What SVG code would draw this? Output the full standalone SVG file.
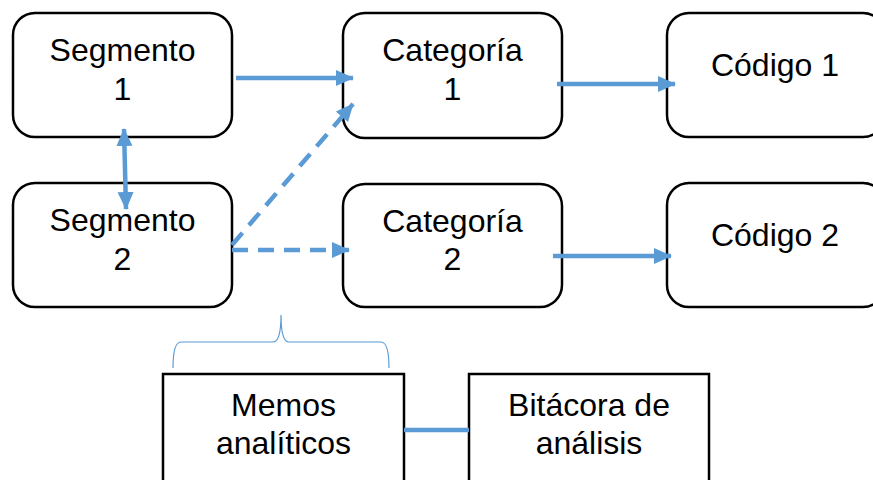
<svg xmlns="http://www.w3.org/2000/svg" width="873" height="480" viewBox="0 0 873 480">
<style>
.box{fill:#fff;stroke:#000;stroke-width:2.5}
.t{font-family:"Liberation Sans",Arial,sans-serif;font-size:32px;fill:#000;text-anchor:middle}
.c{stroke:#5B9BD5;stroke-width:4.5;fill:none}
.d{stroke-dasharray:16 10}
</style>
<defs>
<marker id="ah" markerUnits="userSpaceOnUse" markerWidth="18" markerHeight="18" refX="17" refY="9" orient="auto-start-reverse">
<path d="M0,1 L18,9 L0,17 Z" fill="#5B9BD5"/>
</marker>
</defs>
<rect width="873" height="480" fill="#fff"/>
<g id="seg1"><rect class="box" x="13" y="13" width="219" height="124" rx="22"/><text class="t" x="122.5" y="61">Segmento</text><text class="t" x="122.5" y="100">1</text></g>
<g id="seg2"><rect class="box" x="13" y="183" width="219" height="124" rx="22"/><text class="t" x="122.5" y="231">Segmento</text><text class="t" x="122.5" y="270">2</text></g>
<g id="cat1"><rect class="box" x="343" y="13" width="219" height="125" rx="22"/><text class="t" x="452.5" y="61">Categoría</text><text class="t" x="452.5" y="100">1</text></g>
<g id="cat2"><rect class="box" x="343" y="184" width="219" height="123" rx="22"/><text class="t" x="452.5" y="232">Categoría</text><text class="t" x="452.5" y="270">2</text></g>
<g id="cod1"><rect class="box" x="667" y="13" width="218" height="124" rx="22"/><text class="t" x="775" y="76">Código 1</text></g>
<g id="cod2"><rect class="box" x="667" y="183" width="218" height="124" rx="22"/><text class="t" x="775" y="246">Código 2</text></g>
<g id="memos"><rect class="box" x="163" y="374" width="241" height="120"/><text class="t" x="283.5" y="416">Memos</text><text class="t" x="283.5" y="454">analíticos</text></g>
<g id="bitacora"><rect class="box" x="469" y="374" width="240" height="120"/><text class="t" x="589" y="416">Bitácora de</text><text class="t" x="589" y="454">análisis</text></g>
<g id="connectors">
<line class="c" x1="236" y1="78" x2="353" y2="78" marker-end="url(#ah)"/>
<line class="c d" x1="232" y1="245" x2="353" y2="104" marker-end="url(#ah)"/>
<line class="c d" x1="232" y1="250" x2="349" y2="250" marker-end="url(#ah)"/>
<line class="c" x1="557" y1="84" x2="675" y2="84" marker-end="url(#ah)"/>
<line class="c" x1="553" y1="256" x2="671" y2="256" marker-end="url(#ah)"/>
<line class="c" x1="124" y1="129" x2="126" y2="209" marker-start="url(#ah)" marker-end="url(#ah)"/>
<line class="c" x1="404" y1="430" x2="469" y2="430"/>
<path d="M173,368 Q173,342 181,342 L273,342 Q281,342 281,315 Q281,342 289,342 L381,342 Q389,342 389,368" fill="none" stroke="#5B9BD5" stroke-width="1.2"/>
</g>
</svg>
